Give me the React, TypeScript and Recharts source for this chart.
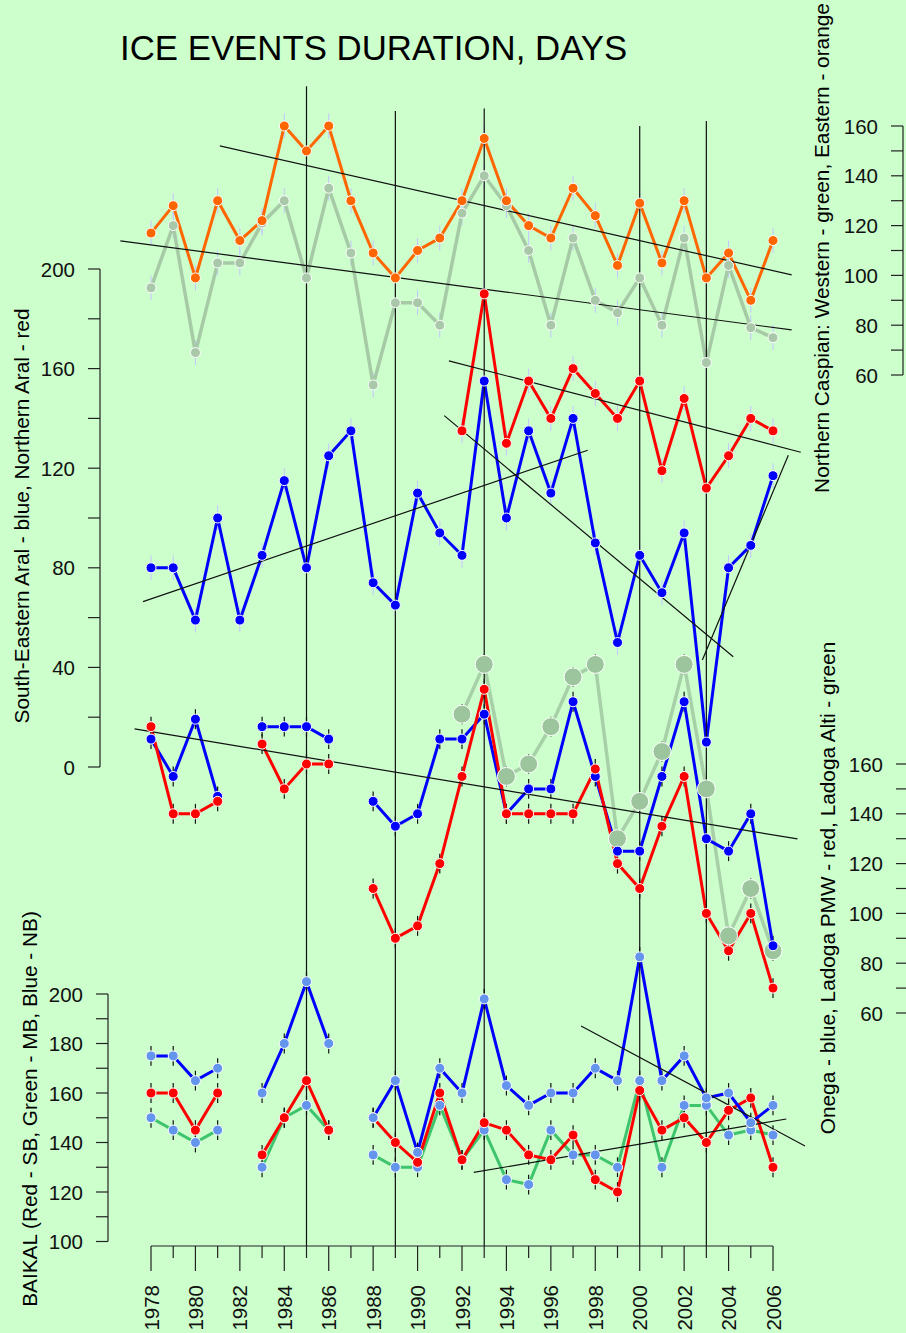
import { ComposedChart, Line, XAxis, YAxis, ErrorBar, ReferenceLine } from 'recharts';

// years on the shared x axis
const years = [
  1978, 1979, 1980, 1981, 1982, 1983, 1984, 1985, 1986, 1987, 1988, 1989, 1990, 1991, 1992,
  1993, 1994, 1995, 1996, 1997, 1998, 1999, 2000, 2001, 2002, 2003, 2004, 2005, 2006
];

// Northern Caspian (right upper axis)
const casEast = [117, 128, 99, 130, 114, 122, 160, 150, 160, 130, 109, 99, 110, 115, 130, 155, 130, 120, 115, 135, 124, 104, 129, 105, 130, 99, 109, 90, 114];
const casWest = [95, 120, 69, 105, 105, 121, 130, 99, 135, 109, 56, 89, 89, 80, 125, 140, 128, 110, 80, 115, 90, 85, 99, 80, 115, 65, 104, 79, 75];

// Aral (left upper axis)
const aralSE = [80, 80, 59, 100, 59, 85, 115, 80, 125, 135, 74, 65, 110, 94, 85, 155, 100, 135, 110, 140, 90, 50, 85, 70, 94, 10, 80, 89, 117];
const aralN = [null, null, null, null, null, null, null, null, null, null, null, null, null, null, 135, 190, 130, 155, 140, 160, 150, 140, 155, 119, 148, 112, 125, 140, 135];

// Onega / Ladoga (right middle axis)
const onega = [170, 155, 178, 147, null, 175, 175, 175, 170, null, 145, 135, 140, 170, 170, 180, 140, 150, 150, 185, 155, 125, 125, 155, 185, 130, 125, 140, 87];
const ladogaPMW = [175, 140, 140, 145, null, 168, 150, 160, 160, null, 110, 90, 95, 120, 155, 190, 140, 140, 140, 140, 158, 120, 110, 135, 155, 100, 85, 100, 70];
const ladogaAlti = [null, null, null, null, null, null, null, null, null, null, null, null, null, null, 180, 200, 155, 160, 175, 195, 200, 130, 145, 165, 200, 150, 91, 110, 85];

// Baikal (left lower axis)
const baikalNB = [175, 175, 165, 170, null, 160, 180, 205, 180, null, 150, 165, 136, 170, 160, 198, 163, 155, 160, 160, 170, 165, 215, 165, 175, 158, 160, 148, 155];
const baikalSB = [160, 160, 145, 160, null, 135, 150, 165, 145, null, 150, 140, 132, 160, 133, 148, 145, 135, 133, 143, 125, 120, 161, 145, 150, 140, 153, 158, 130];
const baikalMB = [150, 145, 140, 145, null, 130, 150, 155, 145, null, 135, 130, 130, 155, 133, 145, 125, 123, 145, 135, 135, 130, 165, 130, 155, 155, 143, 145, 143];

// half-length of the error bars, days
const ERR_UPPER = 5;
const ERR_MID = 4;
const ERR_BAIKAL = 4;

// tick values
const aralTicks = [0, 20, 40, 60, 80, 100, 120, 140, 160, 180, 200];
const casTicks = [60, 70, 80, 90, 100, 110, 120, 130, 140, 150, 160];
const onegaTicks = [60, 70, 80, 90, 100, 110, 120, 130, 140, 150, 160];
const baikalTicks = [100, 110, 120, 130, 140, 150, 160, 170, 180, 190, 200];

// vertical marker years (top end in Caspian units)
const markerYears = [1985, 1989, 1993, 2000, 2003];
const markerTops = [176, 166, 167, 160, 162];

// trend lines: [axis, year1, value1, year2, value2]
const trends: [string, number, number, number, number][] = [
  ['cas', 1981.1, 152, 2006.84, 100.2],
  ['cas', 1976.62, 113.9, 2006.84, 78.1],
  ['aral', 1991.41, 163.1, 2007.25, 126.4],
  ['aral', 1977.64, 66.4, 1997.66, 127.2],
  ['aral', 1991.2, 141.1, 2004.21, 44.3],
  ['aral', 2002.82, 43, 2006.69, 125.2],
  ['one', 1977.26, 174.1, 2007.1, 129.9],
  ['bai', 1992.53, 127.9, 2006.6, 149.5],
  ['bai', 1997.36, 187.1, 2007.44, 138.6]
];

const FONT = '"Liberation Sans", Arial, Helvetica, sans-serif';
const BG = '#ccffcc';
const INK = '#222';
const X_LEFT = 151;
const X_RIGHT = 773;
const AXIS_Y = 1246;
const TICK_FONT = 20.5;
const LABEL_FONT = 20.8;

const pxToYear = (px: number) => 1978 + ((px - X_LEFT) * 28) / (X_RIGHT - X_LEFT);

// domain so that vHi sits at pixel pxHi and vLo at pxLo, plot spanning 0..AXIS_Y
function domainFor(pxHi: number, vHi: number, pxLo: number, vLo: number): [number, number] {
  const k = (pxLo - pxHi) / (vHi - vLo);
  return [vHi - (AXIS_Y - pxHi) / k, vHi + pxHi / k];
}

const aralDomain = domainFor(269, 200, 767, 0);
const casDomain = domainFor(126, 160, 375, 60);
const onegaDomain = domainFor(764, 160, 1013, 60);
const baikalDomain = domainFor(994, 200, 1241.5, 100);

const err = (v: number | null, e: number) => (v == null ? null : e);

const data = years.map((year, i) => ({
  year,
  casEast: casEast[i],
  casEastErr: err(casEast[i], ERR_UPPER),
  casWest: casWest[i],
  casWestErr: err(casWest[i], ERR_UPPER),
  aralSE: aralSE[i],
  aralSEErr: err(aralSE[i], ERR_UPPER),
  aralN: aralN[i],
  aralNErr: err(aralN[i], ERR_UPPER),
  onega: onega[i],
  onegaErr: err(onega[i], ERR_MID),
  ladogaPMW: ladogaPMW[i],
  ladogaPMWErr: err(ladogaPMW[i], ERR_MID),
  ladogaAlti: ladogaAlti[i],
  ladogaAltiErr: err(ladogaAlti[i], ERR_MID),
  baikalNB: baikalNB[i],
  baikalNBErr: err(baikalNB[i], ERR_BAIKAL),
  baikalSB: baikalSB[i],
  baikalSBErr: err(baikalSB[i], ERR_BAIKAL),
  baikalMB: baikalMB[i],
  baikalMBErr: err(baikalMB[i], ERR_BAIKAL)
}));

function YTick({ y, value, axisX, labelStep }: { y: number; value: number; axisX: number; labelStep: number }) {
  return (
    <g>
      <line x1={axisX - 12} x2={axisX} y1={y} y2={y} stroke={INK} strokeWidth={1.2} />
      {value % labelStep === 0 && (
        <text x={axisX - 25} y={y} textAnchor='end' dominantBaseline='central' fontSize={TICK_FONT} fontFamily={FONT} fill='#111'>
          {value}
        </text>
      )}
    </g>
  );
}

function XTick({ x, value }: { x: number; value: number }) {
  const major = value % 2 === 0;
  return (
    <g>
      <line x1={x} x2={x} y1={AXIS_Y} y2={AXIS_Y + (major ? 25 : 12)} stroke={INK} strokeWidth={1.2} />
      {major && (
        <text
          transform={`translate(${x},${AXIS_Y + 39}) rotate(-90)`}
          textAnchor='end'
          dominantBaseline='central'
          fontSize={TICK_FONT}
          fontFamily={FONT}
          fill='#111'>
          {value}
        </text>
      )}
    </g>
  );
}

const smallDot = (fill: string) => ({ r: 5, fill, stroke: '#fff', strokeWidth: 1 });

export default function App() {
  return (
    <div style={{ position: 'absolute', left: 0, top: 0, width: 906, height: 1333, background: BG }}>
      <ComposedChart width={906} height={1333} data={data} margin={{ top: 0, right: 906 - X_RIGHT - 2, bottom: 0, left: X_LEFT - 2 }}>
        <XAxis
          dataKey='year'
          type='number'
          domain={[1978, 2006]}
          ticks={years}
          interval={0}
          height={1333 - AXIS_Y}
          axisLine={{ stroke: INK, strokeWidth: 1.2 }}
          tickLine={false}
          tick={(p: any) => <XTick x={p.x} value={p.payload.value} />}
        />
        <YAxis
          yAxisId='aral'
          orientation='left'
          width={1}
          type='number'
          domain={aralDomain}
          ticks={aralTicks}
          interval={0}
          axisLine={false}
          tickLine={false}
          tick={(p: any) => <YTick y={p.y} value={p.payload.value} axisX={100} labelStep={40} />}
        />
        <YAxis
          yAxisId='bai'
          orientation='left'
          width={1}
          type='number'
          domain={baikalDomain}
          ticks={baikalTicks}
          interval={0}
          axisLine={false}
          tickLine={false}
          tick={(p: any) => <YTick y={p.y} value={p.payload.value} axisX={108} labelStep={20} />}
        />
        <YAxis
          yAxisId='cas'
          orientation='right'
          width={1}
          type='number'
          domain={casDomain}
          ticks={casTicks}
          interval={0}
          axisLine={false}
          tickLine={false}
          tick={(p: any) => <YTick y={p.y} value={p.payload.value} axisX={903} labelStep={20} />}
        />
        <YAxis
          yAxisId='one'
          orientation='right'
          width={1}
          type='number'
          domain={onegaDomain}
          ticks={onegaTicks}
          interval={0}
          axisLine={false}
          tickLine={false}
          tick={(p: any) => <YTick y={p.y} value={p.payload.value} axisX={908} labelStep={20} />}
        />

        {/* axis lines */}
        <ReferenceLine yAxisId='aral' segment={[{ x: pxToYear(100), y: 0 }, { x: pxToYear(100), y: 200 }]} stroke={INK} strokeWidth={1.2} ifOverflow='visible' />
        <ReferenceLine yAxisId='bai' segment={[{ x: pxToYear(108), y: 100 }, { x: pxToYear(108), y: 200 }]} stroke={INK} strokeWidth={1.2} ifOverflow='visible' />
        <ReferenceLine yAxisId='cas' segment={[{ x: pxToYear(903), y: 60 }, { x: pxToYear(903), y: 160 }]} stroke={INK} strokeWidth={1.2} ifOverflow='visible' />

        {/* Caspian */}
        <Line yAxisId='cas' dataKey='casWest' stroke='#a6caa6' strokeWidth={3.5} dot={smallDot('#a9c7a9')} activeDot={false} isAnimationActive={false}>
          <ErrorBar dataKey='casWestErr' direction='y' width={0} stroke='#c4c4ff' strokeWidth={1} isAnimationActive={false} />
        </Line>
        <Line yAxisId='cas' dataKey='casEast' stroke='#ff6600' strokeWidth={3} dot={smallDot('#ff6600')} activeDot={false} isAnimationActive={false}>
          <ErrorBar dataKey='casEastErr' direction='y' width={0} stroke='#c4c4ff' strokeWidth={1} isAnimationActive={false} />
        </Line>

        {/* Aral */}
        <Line yAxisId='aral' dataKey='aralSE' stroke='#0000ff' strokeWidth={3} dot={smallDot('#0000ff')} activeDot={false} isAnimationActive={false}>
          <ErrorBar dataKey='aralSEErr' direction='y' width={0} stroke='#c4c4ff' strokeWidth={1} isAnimationActive={false} />
        </Line>
        <Line yAxisId='aral' dataKey='aralN' stroke='#ff0000' strokeWidth={3} dot={smallDot('#ff0000')} activeDot={false} isAnimationActive={false}>
          <ErrorBar dataKey='aralNErr' direction='y' width={0} stroke='#c4c4ff' strokeWidth={1} isAnimationActive={false} />
        </Line>

        {/* Onega / Ladoga */}
        <Line
          yAxisId='one'
          dataKey='ladogaAlti'
          stroke='#a8d0a8'
          strokeWidth={3.5}
          dot={{ r: 9, fill: '#9dc59d', stroke: '#fff', strokeWidth: 1 }}
          activeDot={false}
          isAnimationActive={false}>
          <ErrorBar dataKey='ladogaAltiErr' direction='y' width={0} stroke='#111' strokeWidth={1.2} isAnimationActive={false} />
        </Line>
        <Line yAxisId='one' dataKey='onega' stroke='#0000ff' strokeWidth={3} dot={smallDot('#0000ff')} activeDot={false} isAnimationActive={false}>
          <ErrorBar dataKey='onegaErr' direction='y' width={0} stroke='#111' strokeWidth={1.2} isAnimationActive={false} />
        </Line>
        <Line yAxisId='one' dataKey='ladogaPMW' stroke='#ff0000' strokeWidth={3} dot={smallDot('#ff0000')} activeDot={false} isAnimationActive={false}>
          <ErrorBar dataKey='ladogaPMWErr' direction='y' width={0} stroke='#111' strokeWidth={1.2} isAnimationActive={false} />
        </Line>

        {/* Baikal */}
        <Line yAxisId='bai' dataKey='baikalMB' stroke='#3ec46d' strokeWidth={3} dot={smallDot('#6495ed')} activeDot={false} isAnimationActive={false}>
          <ErrorBar dataKey='baikalMBErr' direction='y' width={0} stroke='#111' strokeWidth={1.2} isAnimationActive={false} />
        </Line>
        <Line yAxisId='bai' dataKey='baikalSB' stroke='#ff0000' strokeWidth={3} dot={smallDot('#ff0000')} activeDot={false} isAnimationActive={false}>
          <ErrorBar dataKey='baikalSBErr' direction='y' width={0} stroke='#111' strokeWidth={1.2} isAnimationActive={false} />
        </Line>
        <Line yAxisId='bai' dataKey='baikalNB' stroke='#0000ff' strokeWidth={3} dot={smallDot('#6495ed')} activeDot={false} isAnimationActive={false}>
          <ErrorBar dataKey='baikalNBErr' direction='y' width={0} stroke='#111' strokeWidth={1.2} isAnimationActive={false} />
        </Line>

        {/* vertical marker lines */}
        {markerYears.map((yr, i) => (
          <ReferenceLine
            key={`v${yr}`}
            yAxisId='cas'
            segment={[{ x: yr, y: casDomain[0] }, { x: yr, y: markerTops[i] }]}
            stroke='#111'
            strokeWidth={1.2}
            ifOverflow='visible'
          />
        ))}

        {/* trend lines */}
        {trends.map(([axis, x1, y1, x2, y2], i) => (
          <ReferenceLine
            key={`t${i}`}
            yAxisId={axis}
            segment={[{ x: x1, y: y1 }, { x: x2, y: y2 }]}
            stroke='#111'
            strokeWidth={1.2}
            ifOverflow='visible'
          />
        ))}
      </ComposedChart>

      <svg width={906} height={1333} style={{ position: 'absolute', left: 0, top: 0, pointerEvents: 'none' }} fontFamily={FONT}>
        <text x={120} y={60} fontSize={34.8} fill='#000'>
          ICE EVENTS DURATION, DAYS
        </text>
        <text transform='translate(28.5,516) rotate(-90)' textAnchor='middle' fontSize={LABEL_FONT} fill='#000'>
          South-Eastern Aral - blue, Northern Aral - red
        </text>
        <text transform='translate(36.5,1109) rotate(-90)' textAnchor='middle' fontSize={LABEL_FONT} fill='#000'>
          BAIKAL (Red - SB, Green - MB, Blue - NB)
        </text>
        <text transform='translate(828.5,248) rotate(-90)' textAnchor='middle' fontSize={LABEL_FONT} fill='#000'>
          Northern Caspian: Western - green, Eastern - orange
        </text>
        <text transform='translate(834.5,888) rotate(-90)' textAnchor='middle' fontSize={LABEL_FONT} fill='#000'>
          Onega - blue, Ladoga PMW - red, Ladoga Alti - green
        </text>
      </svg>
    </div>
  );
}
